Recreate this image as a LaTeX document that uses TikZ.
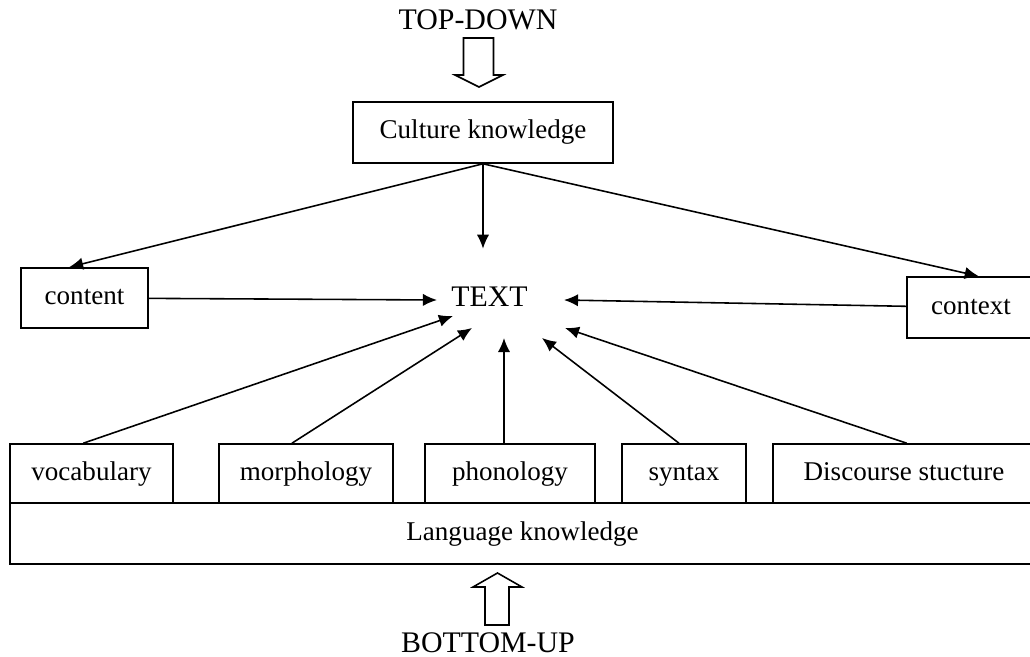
\documentclass[tikz,border=0pt]{standalone}
\usepackage{fontspec}
\setmainfont{Liberation Serif}
\usetikzlibrary{arrows.meta,calc}
\begin{document}
\begin{tikzpicture}[>={Latex[length=8pt,width=7pt]},
    caixa/.style={draw, line width=0.9pt, inner sep=0pt, text height=11pt, text depth=3.6pt,
                  font=\fontsize{15.4}{18}\selectfont},
    seta/.style={->, line width=0.9pt},
    grande/.style={inner sep=0pt, font=\fontsize{17}{20}\selectfont}]
  \useasboundingbox (0,0) rectangle (20.6,-13.14);

  % Topo: conhecimento cultural
  \node[grande] (topdown) at (9.56,-0.4) {TOP-DOWN};
  \node[caixa, minimum width=5.2cm, minimum height=1.22cm] (culture) at (9.66,-2.65) {Culture knowledge};

  % Seta vazada de cima
  \draw[line width=0.9pt] (9.27,-0.76) -- (9.27,-1.5) -- (9.1,-1.5) -- (9.58,-1.74)
        -- (10.06,-1.5) -- (9.87,-1.5) -- (9.87,-0.76) -- cycle;

  % Centro
  \node[grande] (texto) at (9.79,-5.94) {TEXT};
  \node[caixa, minimum width=2.54cm, minimum height=1.2cm] (content) at (1.69,-5.96) {content};
  \node[caixa, minimum width=2.56cm, minimum height=1.22cm] (context) at (19.42,-6.15) {context};

  % Base: conhecimento da língua
  \foreach \nome/\x/\w/\txt in {vocab/1.83/3.26/vocabulary, morph/6.12/3.48/morphology,
      phon/10.2/3.4/phonology, syntax/13.68/2.48/syntax, discourse/18.08/5.24/Discourse stucture}
    \node[caixa, minimum width=\w cm, minimum height=1.18cm] (\nome) at (\x,-9.47) {\txt};
  \node[caixa, minimum width=20.5cm, minimum height=1.22cm] (language) at (10.45,-10.67) {Language knowledge};

  % Seta vazada de baixo
  \draw[line width=0.9pt] (9.7,-12.5) -- (9.7,-11.74) -- (9.46,-11.74) -- (9.95,-11.46)
        -- (10.44,-11.74) -- (10.18,-11.74) -- (10.18,-12.5) -- cycle;
  \node[grande] (bottomup) at (9.76,-12.86) {BOTTOM-UP};

  % Setas de cima
  \draw[seta] (culture.south) -- ($(content.north west)!0.38!(content.north east)$);
  \draw[seta] (culture.south) -- ($(culture.south)+(0,-1.7)$);
  \draw[seta] (culture.south) -- ($(context.north west)!0.56!(context.north east)$);

  % Setas laterais
  \draw[seta] (content) -- ($(texto)+(-1.05,-0.06)$);
  \draw[seta] (context) -- ($(texto)+(1.49,-0.06)$);

  % Setas de baixo
  \foreach \nome/\f/\dx/\dy in {vocab/0.45/-0.73/-0.38, morph/0.42/-0.35/-0.62,
      phon/0.465/0.29/-0.82, syntax/0.46/1.05/-0.82, discourse/0.51/1.51/-0.62}
    \draw[seta] ($(\nome.north west)!\f!(\nome.north east)$) -- ($(texto)+(\dx,\dy)$);
\end{tikzpicture}
\end{document}
